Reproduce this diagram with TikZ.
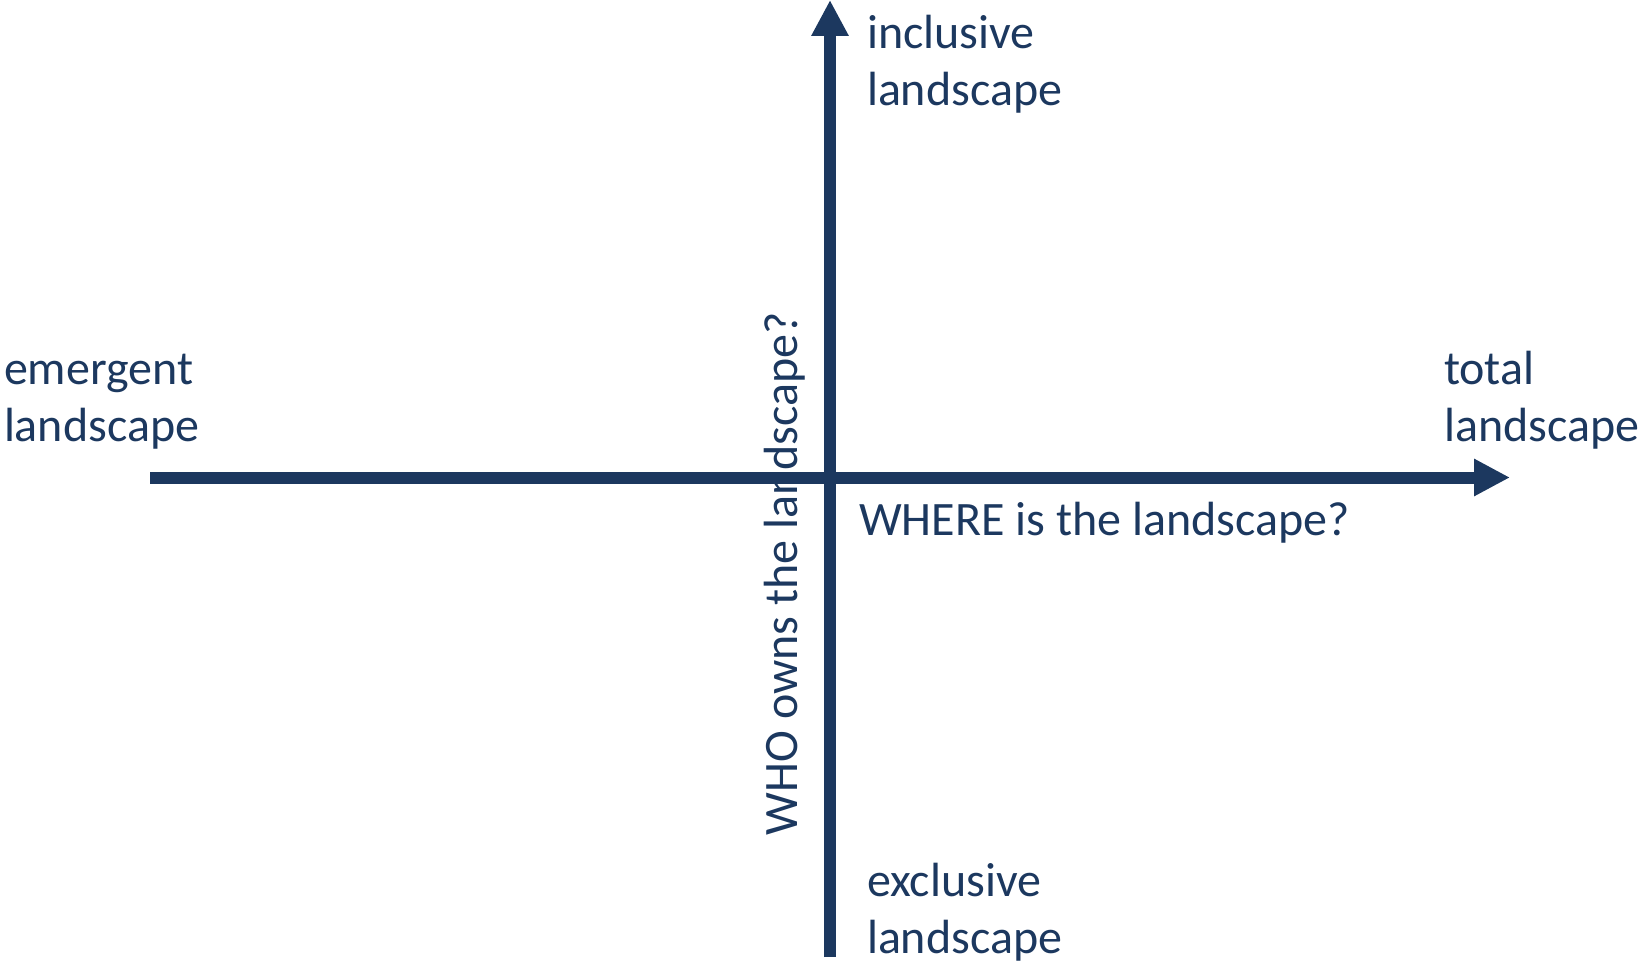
\documentclass[tikz,border=0pt]{standalone}
\usepackage{fontspec}
\setmainfont{Carlito}
\usetikzlibrary{arrows.meta}
\definecolor{navy}{HTML}{1C385F}
\begin{document}
\begin{tikzpicture}[x=0.5pt,y=-0.5pt,
  lbl/.style={inner sep=0pt,outer sep=0pt,text=navy,font=\fontsize{24pt}{28.5pt}\selectfont,align=left,anchor=base west},
  axis/.style={draw=navy,line width=6pt,-{Triangle[length=18pt,width=17.5pt]}}]
\useasboundingbox (0,0) rectangle (1638,962);
\node[lbl] (emg) at (4,442) {emergent\\landscape};
\node[lbl] (tot) at (1444,442) {total\\landscape};
\node[lbl] (inc) at (867,106) {inclusive\\landscape};
\node[lbl] (exc) at (867,953) {exclusive\\landscape};
\node[lbl] (where) at (859,535) {WHERE is the landscape?};
\node[lbl,rotate=90] (who) at (797,835) {WHO owns the landscape?};
\coordinate (hl) at (150,477.5);
\coordinate (hr) at (1510,477.5);
\coordinate (vb) at (830,957);
\coordinate (vt) at (830,0);
\draw[axis] (hl) -- (hr);
\draw[axis] (vb) -- (vt);
\end{tikzpicture}
\end{document}
